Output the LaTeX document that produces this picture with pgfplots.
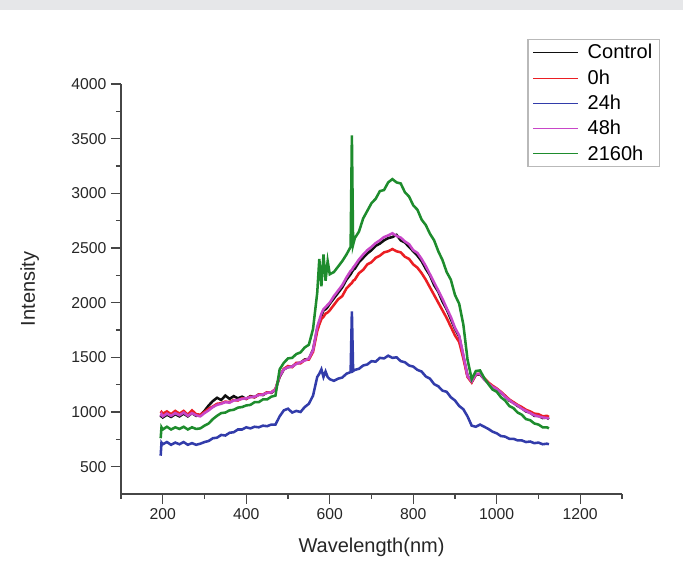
\documentclass[border=0pt]{standalone}
\usepackage{fontspec}
\setmainfont{Liberation Sans}
\usepackage{pgfplots}
\usepackage{pgfplotstable}
\pgfplotsset{compat=1.18}

\definecolor{cCtrl}{RGB}{15,15,15}
\definecolor{cZero}{RGB}{235,30,35}
\definecolor{cTwentyFour}{RGB}{50,60,170}
\definecolor{cFortyEight}{RGB}{200,70,200}
\definecolor{cLong}{RGB}{30,140,45}
\definecolor{axisgray}{RGB}{70,70,70}
\definecolor{bandgray}{RGB}{230,231,233}

% wavelength (nm) vs intensity
\pgfplotstableread{
wl   ctrl h0   h24  h48  h2160
195  950  990  600  960  760
197  965  1000 720  980  860
200  950  985  705  960  840
210  975  1005 725  985  865
220  955  980  700  965  840
230  980  1010 720  990  860
240  960  985  705  970  845
250  985  1010 725  995  865
260  960  975  700  965  840
270  990  1015 715  990  860
280  965  980  700  970  845
290  970  975  710  960  850
300  1010 1000 725  990  875
310  1060 1030 735  1015 895
320  1100 1050 760  1045 935
330  1130 1075 765  1065 965
340  1110 1080 790  1075 990
350  1150 1095 785  1090 995
360  1120 1090 810  1085 1015
370  1145 1110 815  1105 1020
380  1125 1105 840  1110 1040
390  1140 1125 840  1120 1045
400  1120 1120 860  1125 1060
410  1145 1140 850  1135 1065
420  1135 1135 865  1140 1090
430  1160 1160 860  1155 1090
440  1155 1160 875  1160 1115
450  1180 1180 870  1175 1115
460  1175 1180 885  1180 1140
470  1205 1210 885  1205 1150
480  1320 1330 960  1330 1390
490  1390 1395 1015 1390 1450
500  1410 1420 1030 1410 1490
510  1415 1410 995  1415 1495
520  1445 1450 1010 1440 1530
530  1450 1445 1000 1455 1545
540  1480 1475 1045 1470 1590
550  1485 1480 1075 1490 1615
560  1570 1550 1150 1565 1760
570  1760 1740 1320 1780 2090
575  1820 1800 1350 1840 2400
580  1880 1850 1390 1900 2150
585  1930 1870 1320 1940 2440
590  1940 1900 1370 1960 2200
595  1960 1910 1320 1980 2380
600  1990 1930 1300 2000 2260
610  2040 1980 1285 2060 2280
620  2090 2030 1305 2110 2330
630  2140 2060 1315 2160 2380
640  2210 2130 1350 2230 2440
650  2260 2170 1365 2290 2510
653  2280 2180 1920 2300 3530
656  2300 2200 1375 2320 2530
660  2310 2210 1385 2340 2590
670  2370 2270 1395 2395 2650
680  2410 2300 1425 2440 2770
690  2450 2350 1435 2480 2840
700  2480 2370 1465 2510 2910
710  2520 2410 1460 2545 2950
720  2540 2430 1495 2570 3020
730  2570 2460 1490 2600 3030
740  2590 2470 1515 2615 3100
750  2600 2490 1495 2635 3130
760  2620 2470 1500 2610 3100
770  2570 2460 1465 2595 3090
780  2550 2420 1455 2560 3010
790  2510 2400 1425 2535 2970
800  2470 2350 1415 2480 2890
810  2430 2320 1385 2455 2850
820  2380 2270 1370 2400 2760
830  2310 2210 1325 2335 2710
840  2250 2140 1305 2260 2630
850  2160 2070 1255 2185 2570
860  2100 2000 1235 2110 2470
870  2010 1930 1195 2035 2390
880  1940 1860 1185 1950 2280
890  1850 1780 1135 1870 2210
900  1760 1700 1105 1770 2070
910  1690 1640 1055 1700 1990
920  1510 1490 1025 1520 1800
930  1330 1320 960  1330 1480
940  1275 1270 875  1280 1300
950  1340 1345 865  1345 1375
960  1345 1350 885  1350 1380
970  1300 1310 865  1300 1310
980  1265 1270 845  1260 1255
990  1225 1240 820  1230 1205
1000 1210 1215 805  1210 1185
1010 1175 1185 780  1180 1135
1020 1145 1150 775  1140 1105
1030 1105 1115 755  1110 1055
1040 1085 1090 755  1080 1035
1050 1055 1065 740  1060 995
1060 1035 1045 740  1030 975
1070 1005 1020 725  1010 935
1080 995  1005 730  990  925
1090 965  985  715  970  895
1100 965  980  720  960  885
1110 945  960  705  950  860
1120 950  965  710  945  860
1125 935  955  705  940  850
}\spectra

\begin{document}
\begin{tikzpicture}
\fill[bandgray] (-90.75pt,363pt) rectangle (421.5pt,370.5pt);
\begin{axis}[
    at={(0,0)}, anchor=south west,
    width=375.75pt, height=307.5pt, scale only axis,
    xmin=100, xmax=1300, ymin=250, ymax=4000,
    axis lines=left,
    axis line style={-, line width=1pt, draw=axisgray},
    tick align=outside,
    xtick={200,400,...,1200}, minor xtick={100,300,...,1300},
    ytick={500,1000,...,4000}, minor ytick={750,1250,...,3750},
    major tick length=7.5pt, minor tick length=3.75pt,
    tick style={line width=1pt, draw=axisgray},
    ticklabel style={font=\fontsize{11.8}{14}\selectfont, text=black!85},
    /pgf/number format/assume math mode=true,
    /pgf/number format/1000 sep={},
    xlabel={Wavelength(nm)}, ylabel={Intensity},
    label style={font=\fontsize{15}{18}\selectfont, text=black!85},
    xlabel style={at={(axis description cs:0.5,-0.129)}, anchor=center},
    ylabel style={at={(axis description cs:-0.182,0.5)}, anchor=center},
    legend style={at={(axis description cs:1.076,1.109)}, anchor=north east,
        draw=gray!55, line width=0.8pt, font=\fontsize{15}{18}\selectfont,
        inner xsep=3.5pt, inner ysep=1.5pt, row sep=2.6pt, cells={anchor=west}},
    legend image code/.code={
        \draw[#1, line width=0.7pt, draw=.] (0pt,0pt) -- (34pt,0pt);
        \path (38pt,0pt);},
    every axis plot/.append style={line width=1.9pt},
]
\addplot[color=cCtrl] table[x=wl, y=ctrl] {\spectra};
\addlegendentry{Control}
\addplot[color=cZero] table[x=wl, y=h0] {\spectra};
\addlegendentry{0h}
\addplot[color=cTwentyFour] table[x=wl, y=h24] {\spectra};
\addlegendentry{24h}
\addplot[color=cFortyEight] table[x=wl, y=h48] {\spectra};
\addlegendentry{48h}
\addplot[color=cLong] table[x=wl, y=h2160] {\spectra};
\addlegendentry{2160h}
\end{axis}
\pgfresetboundingbox
\useasboundingbox (-90.75pt,-57pt) rectangle (421.5pt,370.5pt);
\end{tikzpicture}
\end{document}
